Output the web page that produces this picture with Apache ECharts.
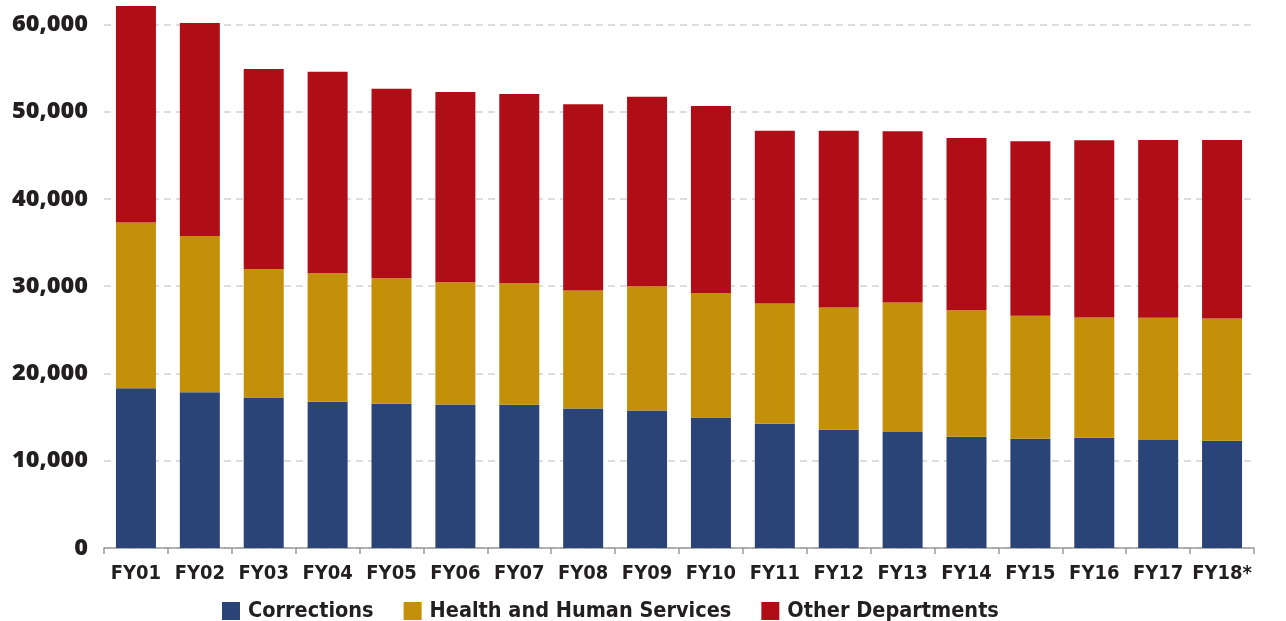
<!DOCTYPE html>
<html>
<head>
<meta charset="utf-8">
<script src="https://cdn.jsdelivr.net/npm/echarts@6/dist/echarts.min.js"></script>
<style>
html,body{margin:0;padding:0;background:#fff;}
#chart{width:1286px;height:621px;}
</style>
</head>
<body>
<div id="chart"></div>
<script>
var categories = ['FY01','FY02','FY03','FY04','FY05','FY06','FY07','FY08','FY09','FY10','FY11','FY12','FY13','FY14','FY15','FY16','FY17','FY18*'];
var corrections = [18300,17850,17230,16770,16540,16430,16400,15980,15740,14940,14250,13560,13290,12750,12520,12640,12370,12290];
var healthHumanServices = [19000,17910,14750,14720,14380,14030,13940,13530,14260,14280,13770,14000,14840,14500,14090,13770,14010,14010];
var otherDepartments = [24800,24390,22900,23080,21700,21790,21680,21330,21710,21430,19790,20250,19610,19730,19990,20300,20370,20450];
var seriesNames = ['Corrections','Health and Human Services','Other Departments'];

var condensed = "'Liberation Sans Narrow', 'DejaVu Sans Condensed', sans-serif";
var chart = echarts.init(document.getElementById('chart'));
chart.setOption({
  animation: false,
  grid: {left: 104, right: 32, top: 6, bottom: 73, containLabel: false},
  legend: {
    left: 217, top: 595,
    icon: 'rect', itemWidth: 18, itemHeight: 18, itemGap: 30,
    textStyle: {fontFamily: condensed, fontWeight: 'bold', fontSize: 21.5, color: '#231f20', padding: [0,0,0,3]},
    data: seriesNames
  },
  xAxis: {
    type: 'category',
    data: categories,
    axisLine: {lineStyle: {color: '#9a9a9a', width: 1.5}},
    axisTick: {show: true, length: 6, lineStyle: {color: '#9a9a9a', width: 1.5}},
    axisLabel: {fontFamily: condensed, fontWeight: 'bold', fontSize: 20, color: '#231f20', margin: 16, interval: 0}
  },
  yAxis: {
    type: 'value',
    min: 0, max: 62100, interval: 10000,
    axisLine: {show: false},
    axisTick: {show: false},
    axisLabel: {
      fontFamily: "'Open Sans', sans-serif", fontWeight: 800, fontSize: 23.5, color: '#231f20', margin: 16,
      showMaxLabel: false,
      formatter: function (v) { return v.toLocaleString('en-US'); }
    },
    splitLine: {show: true, showMaxLine: false, lineStyle: {color: '#d2d2d2', width: 1.5, type: [7, 5]}}
  },
  series: [
    {name: seriesNames[0], type: 'bar', stack: 'total', barWidth: 40, data: corrections, itemStyle: {color: '#2a4477'}},
    {name: seriesNames[1], type: 'bar', stack: 'total', barWidth: 40, data: healthHumanServices, itemStyle: {color: '#c4900a'}},
    {name: seriesNames[2], type: 'bar', stack: 'total', barWidth: 40, data: otherDepartments, itemStyle: {color: '#b00e16'}}
  ]
});
</script>
</body>
</html>
